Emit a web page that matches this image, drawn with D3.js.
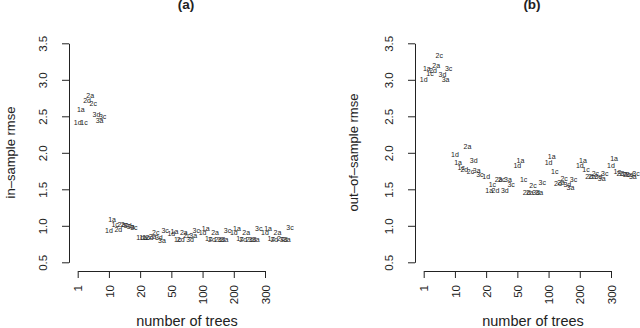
<!DOCTYPE html>
<html>
<head>
<meta charset="utf-8">
<script src="https://cdn.jsdelivr.net/npm/d3@7"></script>
<style>
  body { margin: 0; background: #fff; }
  svg { display: block; font-family: 'Liberation Sans', Arial, sans-serif; }
</style>
</head>
<body>
<div id="chart"></div>
<script>
// tick labels for the number of trees (one group per tick)
const treeCounts = ['1', '10', '20', '50', '100', '200', '300']

// configurations, in the order they sit inside each group
const configs = ['1d', '1a', '1c', '2d', '2a', '2c', '3d', '3a', '3c']

const yTicks = [0.5, 1.0, 1.5, 2.0, 2.5, 3.0, 3.5]

// in-sample rmse, one row per tree count, columns follow `configs`
const inSample = [
  [2.41, 2.59, 2.42, 2.72, 2.79, 2.68, 2.53, 2.44, 2.49],
  [0.93, 1.09, 1.02, 0.95, 1.02, 1.02, 1.01, 0.99, 0.98],
  [0.84, 0.84, 0.84, 0.84, 0.85, 0.91, 0.84, 0.80, 0.94],
  [0.90, 0.92, 0.81, 0.81, 0.91, 0.86, 0.81, 0.87, 0.94],
  [0.91, 0.96, 0.82, 0.81, 0.91, 0.81, 0.81, 0.81, 0.93],
  [0.91, 0.96, 0.82, 0.81, 0.91, 0.81, 0.81, 0.81, 0.96],
  [0.91, 0.96, 0.82, 0.81, 0.91, 0.82, 0.81, 0.81, 0.98]
]

// out-of-sample rmse
const outSample = [
  [3.01, 3.16, 3.08, 3.12, 3.19, 3.33, 3.07, 3.01, 3.16],
  [1.98, 1.86, 1.80, 1.77, 2.09, 1.75, 1.89, 1.76, 1.70],
  [1.68, 1.48, 1.57, 1.48, 1.64, 1.63, 1.48, 1.63, 1.56],
  [1.82, 1.90, 1.63, 1.45, 1.45, 1.55, 1.45, 1.45, 1.59],
  [1.86, 1.95, 1.74, 1.58, 1.59, 1.65, 1.57, 1.53, 1.63],
  [1.83, 1.89, 1.77, 1.68, 1.68, 1.72, 1.68, 1.65, 1.72],
  [1.83, 1.92, 1.75, 1.72, 1.71, 1.70, 1.70, 1.68, 1.72]
]

const width = 640
const height = 328
const ink = '#222'

const svg = d3
  .select('#chart')
  .append('svg')
  .attr('width', width)
  .attr('height', height)

const panels = [
  { title: '(a)', ylab: 'in\u2013sample rmse', values: inSample, left: 0 },
  { title: '(b)', ylab: 'out\u2013of\u2013sample rmse', values: outSample, left: 346 }
]

// shared vertical scale
const yPositionScale = d3.scaleLinear().domain([0.5, 3.5]).range([262.3, 43.3])

panels.forEach(function(p) {
  const g = svg.append('g').attr('transform', 'translate(' + p.left + ',0)')

  const axisX = 69
  const axisY = 271
  const xPositionScale = d3.scaleLinear().domain([0, 6]).range([77.7, 265])

  // panel title
  g.append('text')
    .text(p.title)
    .attr('x', 186)
    .attr('y', 9)
    .attr('text-anchor', 'middle')
    .attr('font-size', 13.5)
    .attr('font-weight', 'bold')
    .attr('fill', ink)

  // y axis
  const yAxis = d3
    .axisLeft(yPositionScale)
    .tickValues(yTicks)
    .tickFormat(d3.format('.1f'))
    .tickSize(7)
    .tickSizeOuter(0)

  const yg = g
    .append('g')
    .attr('transform', 'translate(' + axisX + ',0)')
    .call(yAxis)
  yg.select('.domain').attr('stroke', ink)
  yg.selectAll('.tick line').attr('stroke', ink)
  yg.selectAll('.tick text')
    .attr('x', 0)
    .attr('y', -22.5)
    .attr('dy', 0)
    .attr('transform', 'rotate(-90)')
    .attr('text-anchor', 'middle')
    .attr('font-size', 11.5)
    .attr('font-family', null)
    .attr('fill', ink)

  // x axis, one tick per tree count
  const xAxis = d3
    .axisBottom(xPositionScale)
    .tickValues(d3.range(treeCounts.length))
    .tickFormat(i => treeCounts[i])
    .tickSize(7)
    .tickSizeOuter(0)

  const xg = g
    .append('g')
    .attr('transform', 'translate(0,' + axisY + ')')
    .call(xAxis)
  xg.select('.domain').attr('stroke', ink)
  xg.selectAll('.tick line').attr('stroke', ink)
  xg.selectAll('.tick text')
    .attr('x', 0)
    .attr('y', 0)
    .attr('dy', 0)
    .attr('transform', 'translate(4.2,14) rotate(-90)')
    .attr('text-anchor', 'end')
    .attr('font-size', 11.5)
    .attr('font-family', null)
    .attr('fill', ink)

  // axis titles
  g.append('text')
    .text('number of trees')
    .attr('x', 187)
    .attr('y', 326)
    .attr('text-anchor', 'middle')
    .attr('font-size', 14.5)
    .attr('fill', ink)

  g.append('text')
    .text(p.ylab)
    .attr('transform', 'translate(' + (p.left === 0 ? 15 : 12) + ',152.5) rotate(-90)')
    .attr('text-anchor', 'middle')
    .attr('font-size', 13)
    .attr('fill', ink)

  // every point is drawn as its configuration label
  const points = []
  p.values.forEach(function(row, gi) {
    row.forEach(function(v, ci) {
      points.push({ group: gi, idx: ci, config: configs[ci], value: v })
    })
  })

  g.append('g')
    .selectAll('text')
    .data(points)
    .enter()
    .append('text')
    .text(d => d.config)
    .attr('x', d => xPositionScale(d.group + d.idx * 0.1))
    .attr('y', d => yPositionScale(d.value))
    .attr('dy', '0.35em')
    .attr('text-anchor', 'middle')
    .attr('font-size', 7)
    .attr('fill', ink)
})
</script>
</body>
</html>
